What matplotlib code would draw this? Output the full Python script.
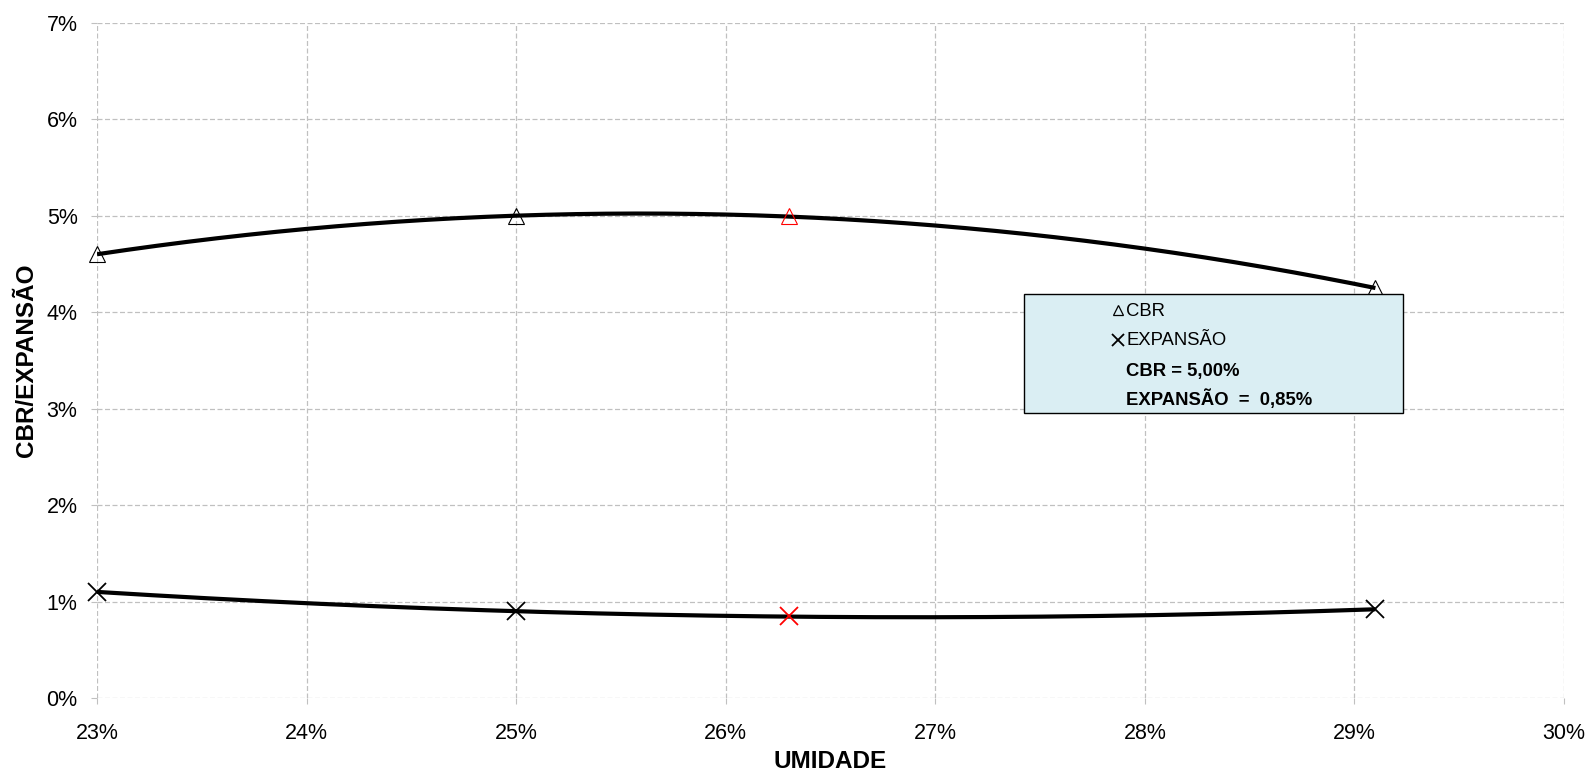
import numpy as np
import matplotlib
matplotlib.use('Agg')
import matplotlib.pyplot as plt
from matplotlib.patches import Rectangle

plt.rcParams['font.family'] = ['Liberation Sans', 'DejaVu Sans']

# ensaio CBR (%)
umidade = [23.0, 25.0, 29.1]
cbr = [4.60, 5.00, 4.25]
expansao = [1.10, 0.90, 0.92]

# ponto na umidade otima (vermelho)
umidade_otima = [26.3]
cbr_otimo = [5.00]
expansao_otima = [0.85]

x_ticks = [23, 24, 25, 26, 27, 28, 29, 30]
y_ticks = [0, 1, 2, 3, 4, 5, 6, 7]

fig = plt.figure(figsize=(15.88, 7.73), dpi=100)
ax = fig.add_axes([0.0611, 0.0970, 0.9238, 0.8736])

# linhas de tendencia polinomial (ordem 2)
xs = np.linspace(min(umidade), max(umidade), 300)
for yv in (cbr, expansao):
    coef = np.polyfit(umidade, yv, 2)
    ax.plot(xs, np.polyval(coef, xs), color='black', lw=3, zorder=3,
            solid_capstyle='butt')

ax.plot(umidade, cbr, ls='none', marker='^', ms=11, mfc='none',
        mec='black', mew=0.8, zorder=4, clip_on=False)
ax.plot(umidade, expansao, ls='none', marker='x', ms=13,
        mec='black', mew=1.3, zorder=4, clip_on=False)
ax.plot(umidade_otima, cbr_otimo, ls='none', marker='^', ms=11, mfc='none',
        mec='red', mew=0.8, zorder=4)
ax.plot(umidade_otima, expansao_otima, ls='none', marker='x', ms=13,
        mec='red', mew=1.3, zorder=4)

ax.set_xlim(23, 30)
ax.set_ylim(0, 7)
ax.set_xticks(x_ticks)
ax.set_yticks(y_ticks)
ax.set_xticklabels([f'{v}%' for v in x_ticks])
ax.set_yticklabels([f'{v}%' for v in y_ticks])
ax.tick_params(labelsize=15.5, length=4, color='#c0c0c0')
ax.tick_params(axis='x', pad=14)
ax.tick_params(axis='y', pad=10)
ax.grid(True, color='#c0c0c0', ls='--', lw=0.9, dashes=(4, 2))
for s in ax.spines.values():
    s.set_visible(False)

ax.set_xlabel('UMIDADE', fontsize=17.5, fontweight='bold', labelpad=4)
ax.set_ylabel('CBR/EXPANSÃO', fontsize=17.5, fontweight='bold')
ax.yaxis.set_label_coords(-0.040, 0.5)

# caixa de legenda
def fx(px):
    return (px - 97) / (1564 - 97)

def fy(py):
    return (698 - py) / (698 - 22.7)

box = Rectangle((fx(1024), fy(413)), fx(1403) - fx(1024), fy(294) - fy(413),
                transform=ax.transAxes, facecolor='#daeef3', edgecolor='black',
                lw=1, zorder=5)
ax.add_patch(box)
ax.plot([fx(1118)], [fy(310)], transform=ax.transAxes, marker='^', ms=7,
        mfc='none', mec='black', mew=0.9, ls='none', zorder=6, clip_on=False)
ax.plot([fx(1118)], [fy(340)], transform=ax.transAxes, marker='x', ms=8,
        mec='black', mew=1.3, ls='none', zorder=6, clip_on=False)
ax.text(fx(1126), fy(311), 'CBR', transform=ax.transAxes, fontsize=13.3,
        va='center', zorder=6)
ax.text(fx(1126), fy(340), 'EXPANSÃO', transform=ax.transAxes, fontsize=13.3,
        va='center', zorder=6)
ax.text(fx(1126), fy(371), 'CBR = 5,00%', transform=ax.transAxes,
        fontsize=13.3, fontweight='bold', va='center', zorder=6)
ax.text(fx(1126), fy(399), 'EXPANSÃO  =  0,85%', transform=ax.transAxes,
        fontsize=13.3, fontweight='bold', va='center', zorder=6)

fig.savefig('out.png', dpi=100)
